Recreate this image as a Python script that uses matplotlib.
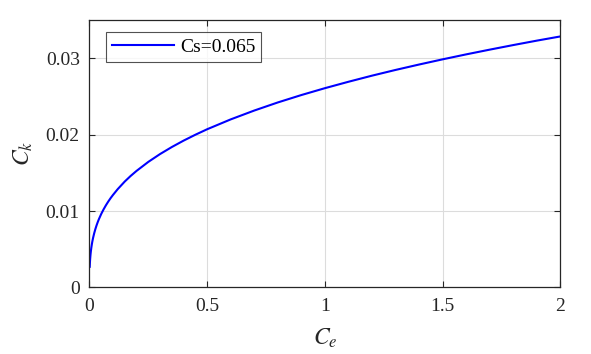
import matplotlib
matplotlib.use("Agg")
import matplotlib.pyplot as plt

# Values
ce = [0.0011, 0.0015, 0.002, 0.0025, 0.003, 0.004, 0.005, 0.006, 0.0075,
      0.01, 0.012, 0.015, 0.02, 0.025, 0.03, 0.035, 0.04, 0.05, 0.06, 0.07,
      0.08, 0.09, 0.1, 0.12, 0.15, 0.175, 0.2, 0.25, 0.3, 0.35, 0.4, 0.45,
      0.5, 0.6, 0.7, 0.8, 0.9, 1.0, 1.1, 1.2, 1.3, 1.4, 1.5, 1.6, 1.7,
      1.8, 1.9, 2.0]
ck = [0.00269, 0.00299, 0.00329, 0.00354, 0.00376, 0.00414, 0.00446,
      0.00474, 0.00511, 0.00562, 0.00598, 0.00644, 0.00708, 0.00763,
      0.00811, 0.00854, 0.00893, 0.00962, 0.01022, 0.01076, 0.01125,
      0.01170, 0.01211, 0.01287, 0.01387, 0.01460, 0.01526, 0.01644,
      0.01747, 0.01839, 0.01923, 0.02000, 0.02072, 0.02201, 0.02317,
      0.02423, 0.02520, 0.02610, 0.02694, 0.02774, 0.02849, 0.02920,
      0.02988, 0.03053, 0.03115, 0.03175, 0.03233, 0.03288]
series_label = "Cs=0.065"
xticks = [0, 0.5, 1, 1.5, 2]
xticklabels = ["0", "0.5", "1", "1.5", "2"]
yticks = [0, 0.01, 0.02, 0.03]
yticklabels = ["0", "0.01", "0.02", "0.03"]

plt.rcParams['font.family'] = ['Liberation Serif', 'DejaVu Serif']
plt.rcParams['mathtext.fontset'] = 'stix'

fig = plt.figure(figsize=(5.91, 3.54), dpi=100)
ax = fig.add_axes([0.1514, 0.1884, 0.948 - 0.1514, 0.9427 - 0.1884])

ax.plot(ce, ck, color=(0, 0, 1), lw=1.5, label=series_label,
        solid_joinstyle='round')
ax.set_xlim(0, 2)
ax.set_ylim(0, 0.035)
ax.set_xticks(xticks)
ax.set_xticklabels(xticklabels)
ax.set_yticks(yticks)
ax.set_yticklabels(yticklabels)
ax.grid(True, color='#dcdcdc', lw=0.8)
ax.set_axisbelow(True)
ax.tick_params(direction='in', top=True, right=True, labelsize=14,
               length=4, width=0.8, colors='#262626', labelcolor='#262626')
ax.tick_params(axis='x', pad=8)
ax.tick_params(axis='y', pad=7)
for s in ax.spines.values():
    s.set_color('#262626')
    s.set_linewidth(0.9)

ax.set_xlabel(r'$C_e$', fontsize=17, color='#262626', labelpad=8)
ax.set_ylabel(r'$C_k$', fontsize=17, color='#262626', labelpad=8)

leg = ax.legend(loc='upper left', bbox_to_anchor=(0.035, 0.955), fontsize=14,
                handlelength=3.2, frameon=True, fancybox=False,
                borderpad=0.3, handletextpad=0.3, borderaxespad=0)
leg.get_frame().set_edgecolor('#262626')
leg.get_frame().set_linewidth(0.8)

fig.savefig('out.png', dpi=100)
